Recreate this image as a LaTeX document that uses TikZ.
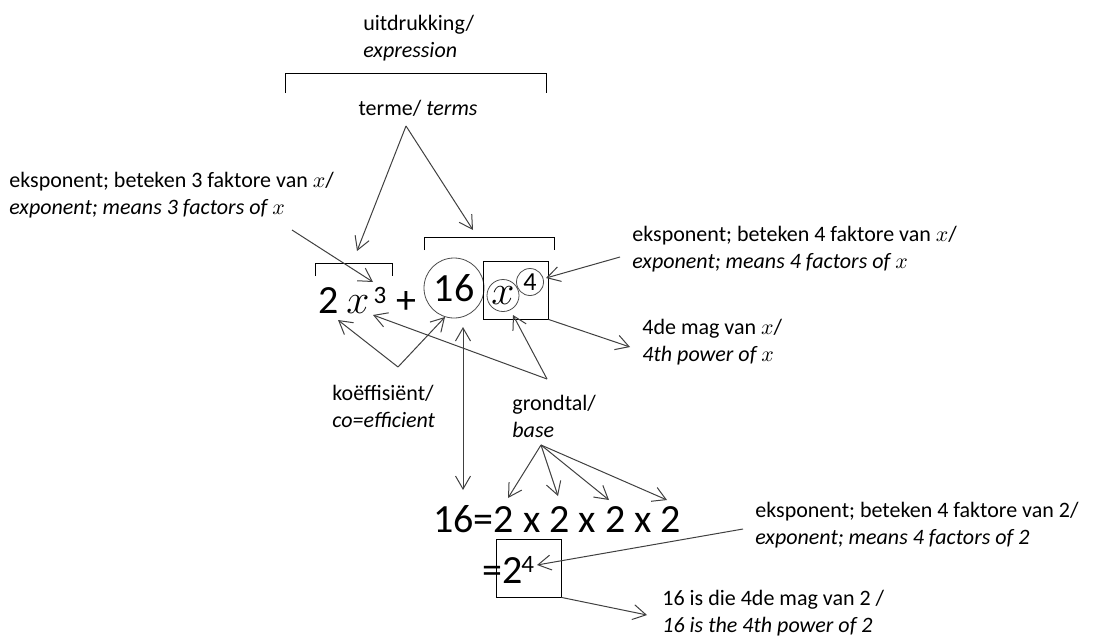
\documentclass[tikz,border=0pt]{standalone}
\usepackage{xcolor}
\usepackage{amsmath, amsfonts, amssymb}
\usepackage{fontspec}
\setmainfont{Carlito}
\usepackage{tikz}
\usetikzlibrary{arrows.meta}

\begin{document}
\begin{tikzpicture}[x=0.5pt, y=-0.5pt,
        lbl/.style={anchor=west, align=left, inner sep=0, font=\fontsize{11}{13.5}\selectfont},
        big/.style={inner sep=0, font=\fontsize{20}{24}\selectfont},
        ring/.style={draw=black!70, circle, inner sep=0},
        boxed/.style={draw, inner sep=0, minimum width=32.5pt, minimum height=29pt},
        arr/.style={draw=black!75, line width=0.5pt, -{Straight Barb[length=6.5pt, width=7.5pt]}},
        arrboth/.style={draw=black!75, line width=0.5pt, {Straight Barb[length=6.5pt, width=7.5pt]}-{Straight Barb[length=6.5pt, width=7.5pt]}}]
        \useasboundingbox (0,0) rectangle (1106,637);

        \node[lbl] at (363,38.5) (expr) {uitdrukking/\\\textit{expression}};
        \draw (285,93) -- (285,73) -- (546,73) -- (546,93);
        \node[lbl, anchor=center] at (418,108) (terms) {terme/ \textit{terms}};

        \node[lbl] at (9,195) (lexp) {eksponent; beteken 3 faktore van $x$/\\\textit{exponent; means 3 factors of $x$}};
        \node[lbl] at (632,249) (rexp) {eksponent; beteken 4 faktore van $x$/\\\textit{exponent; means 4 factors of $x$}};
        \node[lbl] at (642,342.5) (power) {4de mag van $x$/\\\textit{4th power of $x$}};
        \node[lbl] at (332,406) (koeff) {koëffisiënt/\\\textit{co=efficient}};
        \node[lbl] at (512,416.5) (base) {grondtal/\\\textit{base}};
        \node[lbl] at (755,525.5) (exptwo) {eksponent; beteken 4 faktore van 2/\\\textit{exponent; means 4 factors of 2}};
        \node[lbl] at (662,613.5) (powertwo) {16 is die 4de mag van 2 /\\\textit{16 is the 4th power of 2}};

        \draw (315,276) -- (315,263) -- (392,263) -- (392,276);
        \draw (424,250) -- (424,237) -- (554,237) -- (554,250);

        \node[big, anchor=base] at (329,313) (two) {2};
        \node[big, anchor=base] at (358,313) (xthree) {$x$};
        \node[inner sep=0, anchor=base, font=\fontsize{12.5}{14}\selectfont] at (380,303) (three) {3};
        \node[big, anchor=base] at (406,313) (plus) {+};
        \node[ring, big, minimum size=30pt] at (454,288) (sixteen) {16};
        \node[boxed] at (515.5,290) (xbox) {};
        \node[ring, big, minimum size=16pt] at (503,295.5) (xfour) {$x$};
        \node[ring, font=\fontsize{13}{15}\selectfont, minimum size=13.5pt] at (530,282) (four) {4};

        \node[big, anchor=base west] at (433,532) (prod) {16=2 x 2 x 2 x 2};
        \node[boxed] at (528.5,568) (twobox) {};
        \node[big, anchor=base east] at (523,583) (eqtwo) {=2};
        \node[inner sep=0, anchor=base west, font=\fontsize{12.5}{14}\selectfont] at (521,572) (fourtwo) {4};

        \coordinate (termsfoot) at (406,126);
        \coordinate (termtipa) at (357,251);
        \coordinate (termtipb) at (473,230);
        \coordinate (lexpfoot) at (292,230);
        \coordinate (threetip) at (373,282);
        \coordinate (rexpfoot) at (620,257);
        \coordinate (fourtip) at (546,278);
        \coordinate (powertip) at (630,347);
        \coordinate (koefftop) at (398,367);
        \coordinate (twotip) at (338,320);
        \coordinate (sixteentip) at (445,317);
        \coordinate (sixteenfoot) at (463,327);
        \coordinate (prodtop) at (463,490);
        \coordinate (basetop) at (547,379);
        \coordinate (xthreetip) at (373,315);
        \coordinate (xfourtip) at (513,315);
        \coordinate (basefoot) at (541,445);
        \coordinate (tipa) at (508,498);
        \coordinate (tipb) at (558,496);
        \coordinate (tipc) at (609,500);
        \coordinate (tipd) at (667,500);
        \coordinate (exptwofoot) at (743,529);
        \coordinate (fourtwotip) at (537,565);
        \coordinate (powertwotip) at (647,615);

        \draw[arr] (termsfoot) -- (termtipa);
        \draw[arr] (termsfoot) -- (termtipb);
        \draw[arr] (lexpfoot) -- (threetip);
        \draw[arr] (rexpfoot) -- (fourtip);
        \draw[arr] (xbox.south east) -- (powertip);
        \draw[arr] (koefftop) -- (twotip);
        \draw[arr] (koefftop) -- (sixteentip);
        \draw[arrboth] (sixteenfoot) -- (prodtop);
        \draw[arr] (basetop) -- (xthreetip);
        \draw[arr] (basetop) -- (xfourtip);
        \draw[arr] (basefoot) -- (tipa);
        \draw[arr] (basefoot) -- (tipb);
        \draw[arr] (basefoot) -- (tipc);
        \draw[arr] (basefoot) -- (tipd);
        \draw[arr] (exptwofoot) -- (fourtwotip);
        \draw[arr] (twobox.south east) -- (powertwotip);
    \end{tikzpicture}
\end{document}
